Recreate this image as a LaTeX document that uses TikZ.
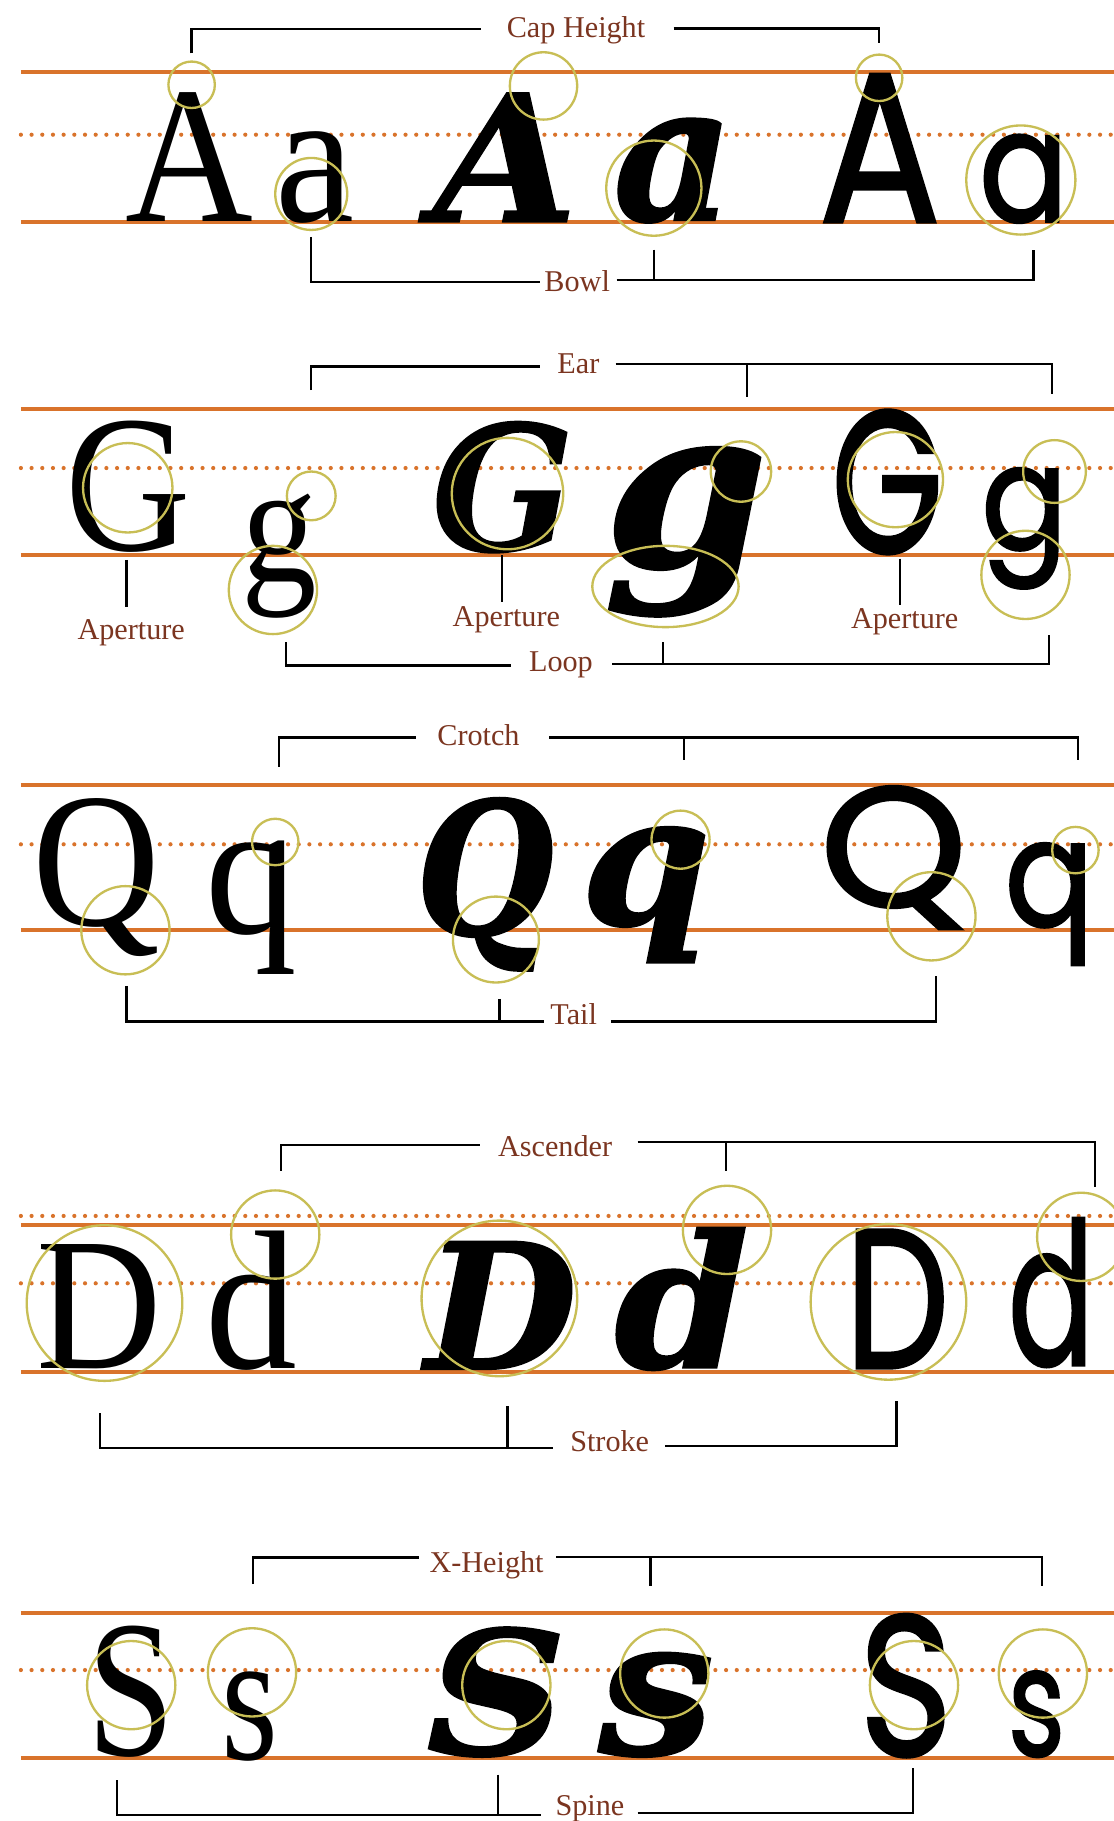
\documentclass[tikz,border=0pt]{standalone}
\usepackage{fontspec}
\usepackage{graphicx}
\setmainfont{Liberation Serif}
\newfontfamily\serifL{Liberation Serif}
\newfontfamily\fatL{DejaVu Serif}[FakeBold=1]
\newfontfamily\sansL{Poppins}[FakeBold=1.6]
\definecolor{org}{HTML}{D9732B}
\definecolor{ringc}{HTML}{C8BE55}
\definecolor{lab}{HTML}{7B3520}
\tikzset{
 orangeline/.style={draw=org, line width=3.5pt},
 dotline/.style={draw=org, line width=3.6pt, line cap=round, dash pattern=on 0pt off 9.2pt},
 ring/.style={draw=ringc, line width=2pt},
 brk/.style={draw=black, line width=2pt},
 lbl/.style={text=lab, font=\fontsize{26}{26}\selectfont, inner sep=0pt, anchor=base},
 glyph/.style={anchor=south west, inner sep=0pt, outer sep=0pt},
}
\newcommand\gl[6]{%
  \pgfmathsetmacro\glw{#3-#2}\pgfmathsetmacro\glh{#5-#4}%
  \node[glyph] (#1) at (#2,#5) {\resizebox*{\glw pt}{\glh pt}{#6}};}
\newcommand\SE[1]{{\serifL #1}}
\newcommand\FT[1]{{\fatL\bfseries\itshape #1}}
\newcommand\SN[1]{{\sansL #1}}
\begin{document}
\begin{tikzpicture}[x=1pt,y=-1pt]
\fill[white] (0,0) rectangle (959,1568);
\useasboundingbox (0,0) rectangle (959,1568);

% ---------------- guide lines
\foreach \y in {62,191,352,478,676,801,1055,1181,1389,1514}
  \draw[orangeline] (18,\y) -- (959,\y);
\foreach \y in {116,403,727,1047,1105,1438}
  \draw[dotline] (18,\y) -- (959,\y);

% ---------------- row 1 : A a
\gl{g1}{108}{218}{80}{191}{\SE{A}}
\gl{g2}{237}{305}{113}{192}{\SE{a}}
\gl{g3}{373}{497}{80}{191}{\FT{A}}
\gl{g4}{528}{632}{102}{192}{\FT{a}}
\gl{g5}{705}{810}{64}{191}{\SN{A}}
\gl{g6}{843}{920}{116}{192}{\SN{a}}
\draw[ring] (165,73) circle[radius=20];
\draw[ring] (268,167) circle[radius=31];
\draw[ring] (468,74) circle[radius=29];
\draw[ring] (563,162) circle[radius=41];
\draw[ring] (757,67) circle[radius=20];
\draw[ring] (879,155) circle[radius=47];
\node[lbl] (capL) at (496,32) {Cap Height};
\draw[brk] (165,46) |- (414,25);
\draw[brk] (580,24.5) -| (757,37);
\node[lbl] (bowlL) at (497,251) {Bowl};
\draw[brk] (268,204) |- (465,243);
\draw[brk] (531,241) -| (890,215);
\draw[brk] (563,215) -- (563,241);

% ---------------- row 2 : G g
\gl{g7}{56}{164}{363}{476}{\SE{G}}
\gl{g8}{208}{273}{425}{532}{\SE{g}}
\gl{g9}{372}{494}{363}{476}{\FT{G}}
\gl{g10}{520}{661}{385}{531}{\FT{g}}
\gl{g11}{716}{812}{353}{477}{\SN{G}}
\gl{g12}{845}{919}{403}{507}{\SN{g}}
\draw[ring] (110,420) circle[radius=38.5];
\draw[ring] (268,427) circle[radius=21];
\draw[ring] (235,508) circle[radius=38];
\draw[ring] (437,425) circle[radius=48];
\draw[ring] (638,406) circle[radius=26];
\draw[ring] (573,505) circle[x radius=63, y radius=35];
\draw[ring] (771,413) circle[radius=41];
\draw[ring] (908,406) circle[radius=27];
\draw[ring] (883,495) circle[radius=38];
\node[lbl] (earL) at (498,322) {Ear};
\draw[brk] (268,336) |- (465,315.5);
\draw[brk] (530,313.5) -| (906,339);
\draw[brk] (643,313.5) -- (643,342);
\node[lbl] (ap1) at (113,551) {Aperture};
\node[lbl] (ap2) at (436,539.5) {Aperture};
\node[lbl] (ap3) at (779,541) {Aperture};
\draw[brk] (109,482) -- (109,523);
\draw[brk] (432,478) -- (432,518);
\draw[brk] (775,481) -- (775,521);
\node[lbl] (loopL) at (483,578) {Loop};
\draw[brk] (246,553) |- (440,573);
\draw[brk] (527,571.5) -| (903,547);
\draw[brk] (571,553) -- (571,571.5);

% ---------------- row 3 : Q q
\gl{g13}{28}{138}{688}{824}{\SE{Q}}
\gl{g14}{177}{256}{724}{839}{\SE{q}}
\gl{g15}{358}{477}{687}{836}{\FT{Q}}
\gl{g16}{500}{612}{712}{829}{\FT{q}}
\gl{g17}{706}{833}{677}{800}{\SN{Q}}
\gl{g18}{865}{942}{726}{831}{\SN{q}}
\draw[ring] (108,801) circle[radius=38];
\draw[ring] (237,725) circle[radius=20];
\draw[ring] (427,809) circle[radius=37];
\draw[ring] (586,723) circle[radius=25];
\draw[ring] (802,789) circle[radius=38];
\draw[ring] (926,732) circle[radius=20];
\node[lbl] (crotchL) at (412,642) {Crotch};
\draw[brk] (240,660) |- (358,635);
\draw[brk] (473,635) -| (928,654);
\draw[brk] (589,635) -- (589,654);
\node[lbl] (tailL) at (494,882) {Tail};
\draw[brk] (109,849) |- (468,879.5);
\draw[brk] (526,879.5) -| (806,840);
\draw[brk] (430,860) -- (430,879.5);

% ---------------- row 4 : D d
\gl{g19}{31}{139}{1072}{1179}{\SE{D}}
\gl{g20}{177}{256}{1060}{1180}{\SE{d}}
\gl{g21}{366}{497}{1069}{1179}{\FT{D}}
\gl{g22}{529}{645}{1057}{1180}{\FT{d}}
\gl{g23}{728}{817}{1059}{1178}{\SN{D}}
\gl{g24}{868}{942}{1049}{1177}{\SN{d}}
\draw[ring] (90,1122) circle[radius=67];
\draw[ring] (237,1063) circle[radius=38];
\draw[ring] (430,1118) circle[radius=67];
\draw[ring] (626,1059) circle[radius=38];
\draw[ring] (765,1121) circle[radius=67];
\draw[ring] (931,1065) circle[radius=38];
\node[lbl] (ascL) at (478,996) {Ascender};
\draw[brk] (242,1008) |- (413,986);
\draw[brk] (549,983.5) -| (943,1022);
\draw[brk] (625,983.5) -- (625,1008);
\node[lbl] (strokeL) at (525,1250) {Stroke};
\draw[brk] (86,1217) |- (476,1247);
\draw[brk] (573,1245) -| (772,1206);
\draw[brk] (437,1211) -- (437,1247);

% ---------------- row 5 : S s
\gl{g25}{75}{150}{1400}{1513}{\SE{S}}
\gl{g26}{191}{240}{1440}{1517}{\SE{s}}
\gl{g27}{367}{488}{1401}{1513}{\FT{S}}
\gl{g28}{515}{615}{1423}{1513}{\FT{s}}
\gl{g29}{740}{820}{1390}{1513}{\SN{S}}
\gl{g30}{868}{917}{1439}{1513}{\SN{s}}
\draw[ring] (113,1451) circle[radius=38];
\draw[ring] (217,1440) circle[radius=38];
\draw[ring] (436,1451) circle[radius=38];
\draw[ring] (572,1441) circle[radius=38];
\draw[ring] (787,1451) circle[radius=38];
\draw[ring] (898,1441) circle[radius=38];
\node[lbl] (xhL) at (419,1354) {X-Height};
\draw[brk] (218,1364) |- (361,1341);
\draw[brk] (479,1340.5) -| (897,1366);
\draw[brk] (560,1340.5) -- (560,1366);
\node[lbl] (spineL) at (508,1563) {Spine};
\draw[brk] (101,1533) |- (466,1563);
\draw[brk] (549,1561) -| (786,1522);
\draw[brk] (429,1528) -- (429,1563);
\end{tikzpicture}
\end{document}
